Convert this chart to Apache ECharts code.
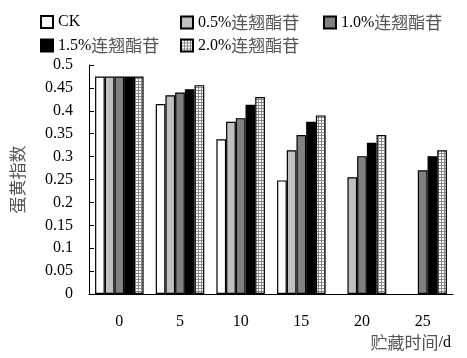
<!DOCTYPE html>
<html>
<head>
<meta charset="utf-8">
<script src="https://cdn.jsdelivr.net/npm/echarts@6/dist/echarts.min.js"></script>
<style>
html,body{margin:0;padding:0;background:#fff;}
#main{width:467px;height:358px;}
</style>
</head>
<body>
<div id="main"></div>
<script>
// ---- data ----
var categories = ['0', '5', '10', '15', '20', '25'];
var seriesNames = ['CK', '0.5%连翘酯苷', '1.0%连翘酯苷', '1.5%连翘酯苷', '2.0%连翘酯苷'];
var ckValues   = [0.475, 0.415, 0.338, 0.248, null, null];
var p05Values  = [0.475, 0.434, 0.376, 0.314, 0.255, null];
var p10Values  = [0.475, 0.440, 0.384, 0.347, 0.301, 0.270];
var p15Values  = [0.475, 0.447, 0.413, 0.376, 0.330, 0.301];
var p20Values  = [0.475, 0.456, 0.430, 0.390, 0.347, 0.314];

// hatched pattern for 2.0%
var pc = document.createElement('canvas');
pc.width = 3; pc.height = 3;
var ctx = pc.getContext('2d');
ctx.fillStyle = '#8a8a8a';
ctx.fillRect(0, 0, 3, 3);
ctx.fillStyle = '#ffffff';
ctx.fillRect(1, 1, 2, 2);
var hatch = { image: pc, repeat: 'repeat' };

var colors = ['#ffffff', '#c0c0c0', '#808080', '#000000', hatch];
var allValues = [ckValues, p05Values, p10Values, p15Values, p20Values];

var serif = '"Liberation Serif", "Times New Roman", serif';
var cjk = '"Noto Sans CJK SC", sans-serif';
var rich = {
  a: { fontFamily: serif, fontSize: 16, color: '#000', lineHeight: 20 },
  b: { fontFamily: cjk, fontSize: 17, color: '#555', lineHeight: 20 }
};
function fmt(name) {
  var m = name.match(/^([0-9.%A-Z]+)(.*)$/);
  return '{a|' + m[1] + '}' + (m[2] ? '{b|' + m[2] + '}' : '');
}

var legendPos = [[40, 14], [180, 14], [323, 14], [40, 37], [180, 37]];
var legends = seriesNames.map(function (n, i) {
  return {
    data: [n], left: legendPos[i][0], top: legendPos[i][1],
    padding: 0, itemGap: 0, itemWidth: 12, itemHeight: 12,
    icon: 'rect', selectedMode: false,
    formatter: fmt,
    textStyle: { rich: rich }
  };
});

var series = seriesNames.map(function (n, i) {
  return {
    name: n, type: 'bar',
    data: allValues[i],
    barGap: '0%', barCategoryGap: '20%',
    itemStyle: { color: colors[i], borderColor: '#000', borderWidth: 1.2 }
  };
});

var chart = echarts.init(document.getElementById('main'), null, { renderer: 'canvas' });
chart.setOption({
  animation: false,
  backgroundColor: '#fff',
  legend: legends,
  grid: { left: 89, right: 14, top: 65, bottom: 64, containLabel: false },
  xAxis: {
    type: 'category', data: categories,
    axisLine: { lineStyle: { color: '#000', width: 1 } },
    axisTick: { inside: true, length: 5, lineStyle: { color: '#000' } },
    axisLabel: { fontFamily: serif, fontSize: 16, color: '#000', margin: 20 },
    name: '{b|贮藏时间}{a|/d}',
    nameLocation: 'end', nameGap: -2,
    nameTextStyle: { align: 'right', verticalAlign: 'top', padding: [39, 0, 0, 0], rich: rich }
  },
  yAxis: {
    type: 'value', min: 0, max: 0.5, interval: 0.05,
    axisLine: { show: true, lineStyle: { color: '#000', width: 1 } },
    axisTick: { show: true, inside: true, length: 5, lineStyle: { color: '#000' } },
    axisLabel: { fontFamily: serif, fontSize: 16, color: '#000', margin: 16 },
    splitLine: { show: false },
    name: '蛋黄指数', nameLocation: 'middle', nameRotate: 90, nameGap: 63,
    nameTextStyle: { fontFamily: cjk, fontSize: 17, color: '#555' }
  },
  series: series
});
</script>
</body>
</html>
